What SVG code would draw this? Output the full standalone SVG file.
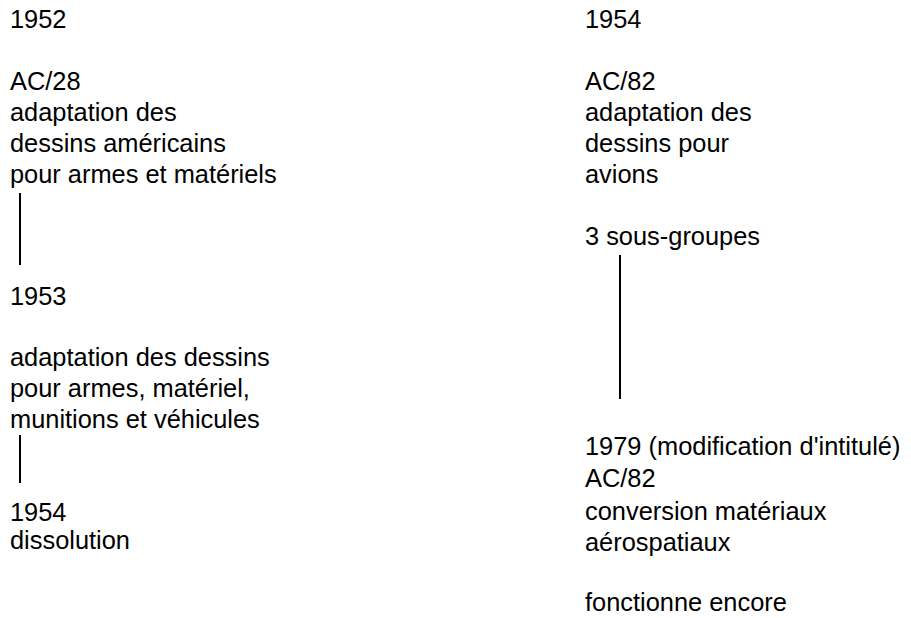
<svg xmlns="http://www.w3.org/2000/svg" width="911" height="618" viewBox="0 0 911 618">
<style>
text{font-family:"Liberation Sans",Arial,sans-serif;font-size:25.4px;fill:#000}
.c{stroke:#000;stroke-width:2;fill:none}
</style>
<rect width="911" height="618" fill="#fff"/>
<g id="n1952"><text x="10" y="28">1952</text></g>
<g id="nAC28"><text x="10" y="90">AC/28</text><text x="10" y="121">adaptation des</text><text x="10" y="152">dessins américains</text><text x="10" y="183">pour armes et matériels</text></g>
<g id="n1953"><text x="10" y="305">1953</text></g>
<g id="n1953b"><text x="10" y="366">adaptation des dessins</text><text x="10" y="397">pour armes, matériel,</text><text x="10" y="428">munitions et véhicules</text></g>
<g id="n1954l"><text x="10" y="521">1954</text><text x="10" y="549">dissolution</text></g>
<g id="n1954r"><text x="585" y="28">1954</text></g>
<g id="nAC82"><text x="585" y="90">AC/82</text><text x="585" y="121">adaptation des</text><text x="585" y="152">dessins pour</text><text x="585" y="183">avions</text></g>
<g id="nSous"><text x="585" y="245">3 sous-groupes</text></g>
<g id="n1979"><text x="585" y="455">1979 (modification d'intitulé)</text><text x="585" y="487">AC/82</text><text x="585" y="520">conversion matériaux</text><text x="585" y="551">aérospatiaux</text><text x="585" y="611">fonctionne encore</text></g>
<g id="connectors">
<line class="c" x1="20" y1="193" x2="20" y2="265"/>
<line class="c" x1="20" y1="435" x2="20" y2="483"/>
<line class="c" x1="620" y1="255" x2="620" y2="399"/>
</g>
</svg>
